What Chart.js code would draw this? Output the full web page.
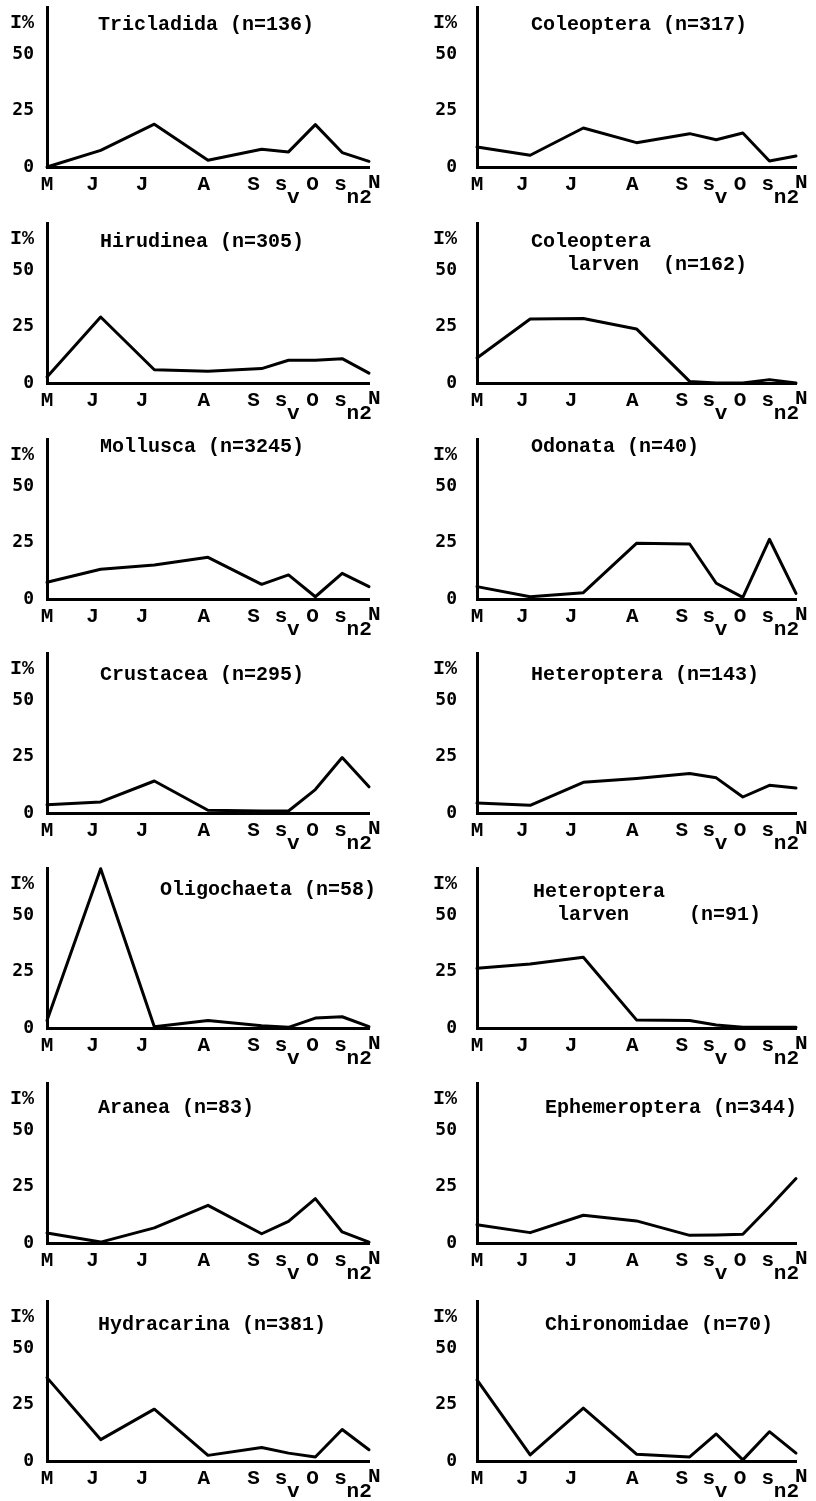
<!DOCTYPE html>
<html>
<head>
<meta charset="utf-8">
<script src="https://cdn.jsdelivr.net/npm/chart.js@4.4.1/dist/chart.umd.min.js"></script>
<style>
html,body{margin:0;padding:0;background:#fff;}
#wrap{position:relative;width:816px;height:1501px;overflow:hidden;background:#fff;}
.panel{position:absolute;width:408px;height:205px;}
canvas{display:block;}
</style>
</head>
<body>
<div id="wrap"></div>
<script>
// ---- categories / ticks ----
const monthPos = [0, 1, 2, 3, 4, 4.5, 5, 5.5, 6];          // M J J A S s_v O s_n2 N
const xLabels = ['M', 'J', 'J', 'A', 'S', 's', 'O', 's', 'N'];
const xSubscripts = ['', '', '', '', '', 'v', '', 'n2', ''];
const xLabelPos = [0, 0.85, 1.77, 2.92, 3.85, 4.36, 4.95, 5.47, 6.1];
const yTickValues = [0, 25, 50];
const yUnitLabel = 'I%';
const yUnitPos = 64;
const yMax = 71;

// ---- series values (I %) ----
const tricladida        = [0, 7.4, 19, 3, 7.9, 6.7, 18.8, 6.4, 2.5];
const coleoptera        = [8.9, 5.2, 17.3, 10.8, 14.8, 12.1, 15.1, 2.7, 4.9];
const hirudinea         = [2.7, 29.3, 5.9, 5.2, 6.4, 10.1, 10.1, 10.8, 4.4];
const coleopteraLarven  = [11.1, 28.4, 28.6, 24, 0.7, 0, 0, 1.5, 0];
const mollusca          = [7.4, 13.2, 15.1, 18.5, 6.5, 10.7, 1, 11.4, 5.5];
const odonata           = [5.5, 1, 2.8, 24.7, 24.4, 7, 0.7, 26.5, 2.5];
const crustacea         = [3.7, 4.9, 14.2, 1.2, 0.9, 0.9, 10.4, 24.6, 11.6];
const heteroptera       = [4.4, 3.4, 13.6, 15.3, 17.5, 15.6, 7.1, 12.3, 11.1];
const oligochaeta       = [3.3, 70.7, 0.6, 3.3, 1, 0.3, 4.4, 5, 0.6];
const heteropteraLarven = [26.5, 28.4, 31.4, 3.6, 3.3, 1.3, 0.3, 0.3, 0.3];
const aranea            = [4.4, 0.4, 6.7, 16.7, 4.1, 9.6, 19.7, 4.9, 0.4];
const ephemeroptera     = [8.1, 4.6, 12.3, 9.8, 3.4, 3.6, 3.9, 16, 28.6];
const hydracarina       = [37, 9.5, 23, 2.5, 6, 3.5, 1.8, 14, 5];
const chironomidae      = [36, 2.7, 23.5, 3, 1.8, 12, 0.5, 13, 3.5];

// ---- titles ----
const titles = [
  ['Tricladida (n=136)'], ['Coleoptera (n=317)'],
  ['Hirudinea (n=305)'], ['Coleoptera', '   larven  (n=162)'],
  ['Mollusca (n=3245)'], ['Odonata (n=40)'],
  ['Crustacea (n=295)'], ['Heteroptera (n=143)'],
  ['Oligochaeta (n=58)'], ['Heteroptera', '  larven     (n=91)'],
  ['Aranea (n=83)'], ['Ephemeroptera (n=344)'],
  ['Hydracarina (n=381)'], ['Chironomidae (n=70)']
];
const seriesList = [tricladida, coleoptera, hirudinea, coleopteraLarven, mollusca, odonata,
  crustacea, heteroptera, oligochaeta, heteropteraLarven, aranea, ephemeroptera, hydracarina, chironomidae];

// ---- layout (pixels) ----
const rowZero = [167, 383, 599, 813, 1028, 1243, 1461];
const titleDx = [51, 54, 53, 54, 53, 54, 53, 54, 113, 56, 51, 68, 51, 68];
const titleDy = [-142, -142, -141, -141, -152, -152, -138, -138, -138, -136, -135, -135, -136, -136];

const FONT = '"Liberation Mono", "DejaVu Sans Mono", monospace';
const TICKFONT = '"DejaVu Sans Mono", "Liberation Mono", monospace';

const textPlugin = {
  id: 'panelText',
  afterDraw(chart, args, opts) {
    const ctx = chart.ctx, ca = chart.chartArea, xs = chart.scales.x;
    ctx.save();
    ctx.fillStyle = '#000';
    ctx.font = 'bold 20px ' + FONT;
    ctx.textBaseline = 'middle';
    ctx.textAlign = 'left';
    opts.title.forEach((line, k) => ctx.fillText(line, ca.left + opts.dx, ca.bottom + opts.dy + k * 23));
    ctx.font = 'bold 21px ' + FONT;
    xLabels.forEach((lab, i) => {
      const px = xs.getPixelForValue(xLabelPos[i]);
      ctx.textAlign = 'center';
      ctx.fillText(lab, px, ca.bottom + (i === xLabels.length - 1 ? 16 : 18));
      if (xSubscripts[i]) {
        ctx.textAlign = 'left';
        ctx.fillText(xSubscripts[i], px + 6, ca.bottom + 31);
      }
    });
    ctx.restore();
  }
};

const wrap = document.getElementById('wrap');
seriesList.forEach((vals, idx) => {
  const col = idx % 2, row = Math.floor(idx / 2);
  const canvasLeft = col === 0 ? 0 : 408;
  const axisX = col === 0 ? 47 : 477;
  const rightX = col === 0 ? 369 : 796;
  const zero = rowZero[row];
  const div = document.createElement('div');
  div.className = 'panel';
  div.style.left = canvasLeft + 'px';
  div.style.top = (zero - 165) + 'px';
  const cv = document.createElement('canvas');
  cv.width = 408; cv.height = 205;
  div.appendChild(cv);
  wrap.appendChild(div);
  const axisW = axisX - canvasLeft;
  new Chart(cv, {
    type: 'line',
    data: {
      datasets: [{
        data: monthPos.map((m, i) => ({x: m, y: vals[i]})),
        borderColor: '#000', borderWidth: 3, pointRadius: 0, tension: 0,
        fill: false, clip: false, borderJoinStyle: 'round', borderCapStyle: 'round'
      }]
    },
    options: {
      responsive: false, animation: false, devicePixelRatio: 1,
      layout: {padding: {top: 5, left: 0, bottom: 0, right: 408 - (rightX - canvasLeft)}},
      plugins: {
        legend: {display: false}, tooltip: {enabled: false},
        panelText: {title: titles[idx], dx: titleDx[idx], dy: titleDy[idx]}
      },
      scales: {
        x: {
          type: 'linear', min: 0, max: 6,
          grid: {display: false, drawTicks: false},
          border: {display: true, width: 3, color: '#000'},
          ticks: {display: false},
          afterFit(s) { s.height = 40; s.paddingLeft = 0; s.paddingRight = 0; }
        },
        y: {
          type: 'linear', min: 0, max: yMax,
          grid: {display: false, drawTicks: false},
          border: {display: true, width: 3, color: '#000'},
          ticks: {
            color: '#000', autoSkip: false, padding: col === 0 ? 13 : 20,
            font: (c) => (c.tick && c.tick.value === yUnitPos)
              ? {family: FONT, size: 20, weight: 'bold'}
              : {family: TICKFONT, size: 18, weight: 'bold'},
            callback: (v) => v === yUnitPos ? yUnitLabel : String(v)
          },
          afterBuildTicks(s) { s.ticks = yTickValues.concat([yUnitPos]).map(v => ({value: v})); },
          afterFit(s) { s.width = axisW; s.paddingTop = 0; s.paddingBottom = 0; }
        }
      }
    },
    plugins: [textPlugin]
  });
});
</script>
</body>
</html>
